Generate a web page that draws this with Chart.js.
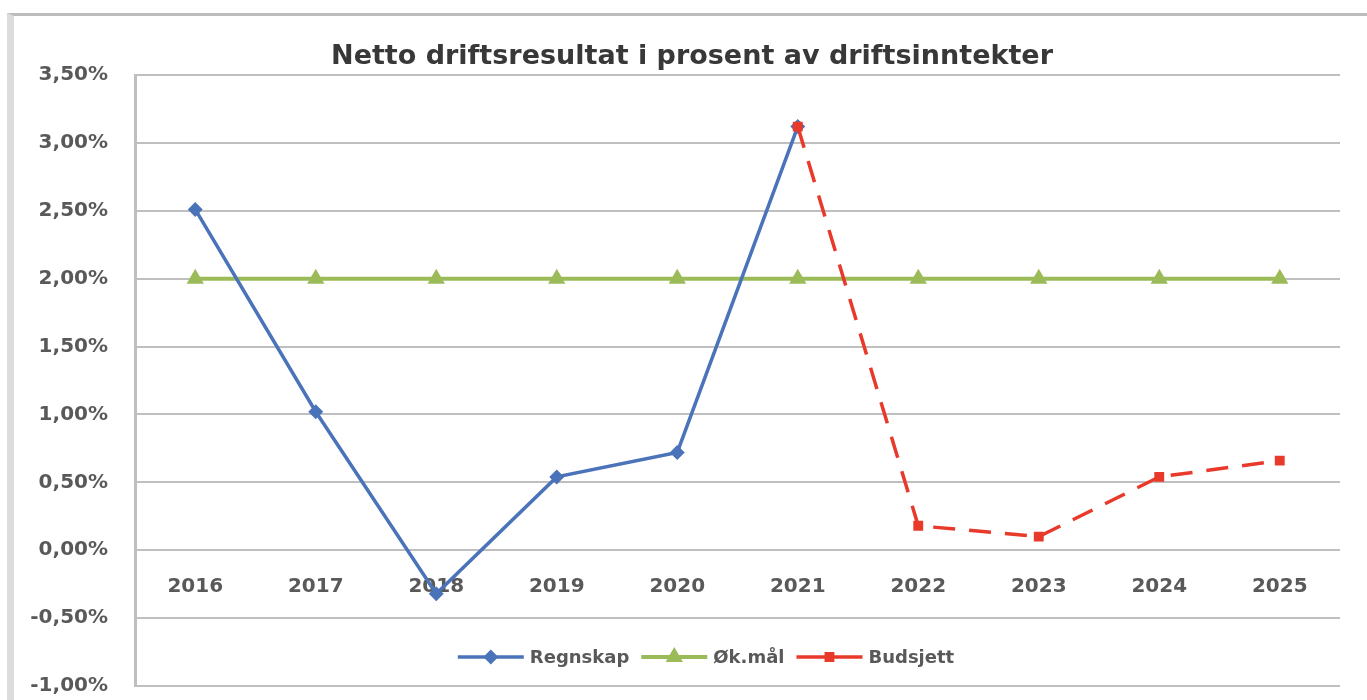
<!DOCTYPE html>
<html>
<head>
<meta charset="utf-8">
<script src="https://cdn.jsdelivr.net/npm/chart.js@4/dist/chart.umd.min.js"></script>
<style>
    html, body { margin: 0; padding: 0; background: #fff; overflow: hidden; }
    #frame { position: absolute; left: 7px; top: 13px; width: 1400px; height: 720px;
             border-top: 3px solid #bcbcbc; border-left: 7px solid #dcdcdc; }
    #wrap { position: absolute; left: 0; top: 0; width: 1384px; height: 700px; }
</style>
</head>
<body>
<div id="frame"></div>
<div id="wrap"><canvas id="chart"></canvas></div>
<script>
(function () {
    'use strict';

    var years = ['2016', '2017', '2018', '2019', '2020', '2021', '2022', '2023', '2024', '2025'];
    var regnskap = [2.51, 1.02, -0.32, 0.54, 0.72, 3.12, null, null, null, null];
    var okMal = [2.00, 2.00, 2.00, 2.00, 2.00, 2.00, 2.00, 2.00, 2.00, 2.00];
    var budsjett = [null, null, null, null, null, 3.12, 0.18, 0.10, 0.54, 0.66];
    var yMin = -1, yMax = 3.5, yStep = 0.5;

    var font = "'DejaVu Sans', sans-serif";
    var textColor = '#595959';

    var fmt = function (v) { return v.toFixed(2).replace('.', ',') + '%'; };

    // legend drawn inside the plot, as in the original
    var legendPlugin = {
        id: 'innerLegend',
        afterDraw: function (chart) {
            var ctx = chart.ctx;
            var y = chart.chartArea.bottom - 29;
            var lineLen = 66, gapText = 6, gapItem = 12;
            ctx.save();
            ctx.font = 'bold 18px ' + font;
            var items = chart.data.datasets.map(function (ds) {
                return { ds: ds, w: lineLen + gapText + ctx.measureText(ds.label).width };
            });
            var total = items.reduce(function (s, it) { return s + it.w; }, 0) + gapItem * (items.length - 1);
            var x = 706 - total / 2;
            items.forEach(function (it) {
                var ds = it.ds;
                ctx.strokeStyle = ds.borderColor;
                ctx.lineWidth = ds.borderWidth;
                ctx.setLineDash([]);
                ctx.beginPath();
                ctx.moveTo(x, y);
                ctx.lineTo(x + lineLen, y);
                ctx.stroke();
                ctx.fillStyle = ds.pointBackgroundColor;
                ctx.strokeStyle = ds.pointBorderColor;
                Chart.helpers.drawPoint(ctx, { pointStyle: ds.pointStyle, radius: ds.pointRadius, rotation: 0, borderWidth: 1 }, x + lineLen / 2, y);
                ctx.fillStyle = textColor;
                ctx.textBaseline = 'middle';
                ctx.textAlign = 'left';
                ctx.fillText(ds.label, x + lineLen + gapText, y + 1);
                x += it.w + gapItem;
            });
            ctx.restore();
        }
    };

    new Chart(document.getElementById('chart'), {
        type: 'line',
        data: {
            labels: years,
            datasets: [
                { label: 'Regnskap', data: regnskap, borderColor: '#4a73b9', borderWidth: 3.5,
                  pointStyle: 'rectRot', pointRadius: 5, pointBackgroundColor: '#4a73b9', pointBorderColor: '#4a73b9',
                  order: 1, spanGaps: false },
                { label: 'Øk.mål', data: okMal, borderColor: '#9bbb59', borderWidth: 4,
                  pointStyle: 'triangle', pointRadius: 6, pointBackgroundColor: '#9bbb59', pointBorderColor: '#9bbb59',
                  order: 2 },
                { label: 'Budsjett', data: budsjett, borderColor: '#e8392a', borderWidth: 3.5, borderDash: [22, 14],
                  pointStyle: 'rect', pointRadius: 4.5, pointBackgroundColor: '#e8392a', pointBorderColor: '#e8392a',
                  order: 0 }
            ]
        },
        options: {
            responsive: true,
            maintainAspectRatio: false,
            animation: false,
            layout: { padding: { left: 0, right: 0, top: 0, bottom: 14 } },
            plugins: {
                legend: { display: false },
                tooltip: { enabled: false },
                title: {
                    display: true,
                    text: 'Netto driftsresultat i prosent av driftsinntekter',
                    color: '#383838',
                    font: { family: font, size: 27, weight: 'bold', lineHeight: 1.2 },
                    padding: { top: 41, bottom: 1.6 }
                }
            },
            scales: {
                x: {
                    position: { y: 0 },
                    offset: true,
                    afterFit: function (scale) { scale.height = 0; },
                    grid: { display: false, drawTicks: false },
                    border: { display: false },
                    ticks: { color: textColor, padding: 25, maxRotation: 0,
                             font: { family: font, size: 20, weight: 'bold' } }
                },
                y: {
                    min: yMin, max: yMax,
                    afterFit: function (scale) {
                        scale.width = 135;
                        scale.paddingTop = 0;
                        scale.paddingBottom = 0;
                    },
                    grid: { color: '#bfbfbf', lineWidth: 2, drawTicks: false },
                    border: { color: '#bfbfbf', width: 3 },
                    ticks: { stepSize: yStep, color: textColor, padding: 27,
                             font: { family: font, size: 20, weight: 'bold' },
                             callback: function (v) { return fmt(v); } }
                },
                // empty spacer on the right so the title sits where the original has it
                spacer: {
                    position: 'right',
                    afterFit: function (scale) { scale.width = 44; },
                    grid: { display: false, drawTicks: false },
                    border: { display: false },
                    ticks: { display: false }
                }
            }
        },
        plugins: [legendPlugin]
    });
})();
</script>
</body>
</html>
